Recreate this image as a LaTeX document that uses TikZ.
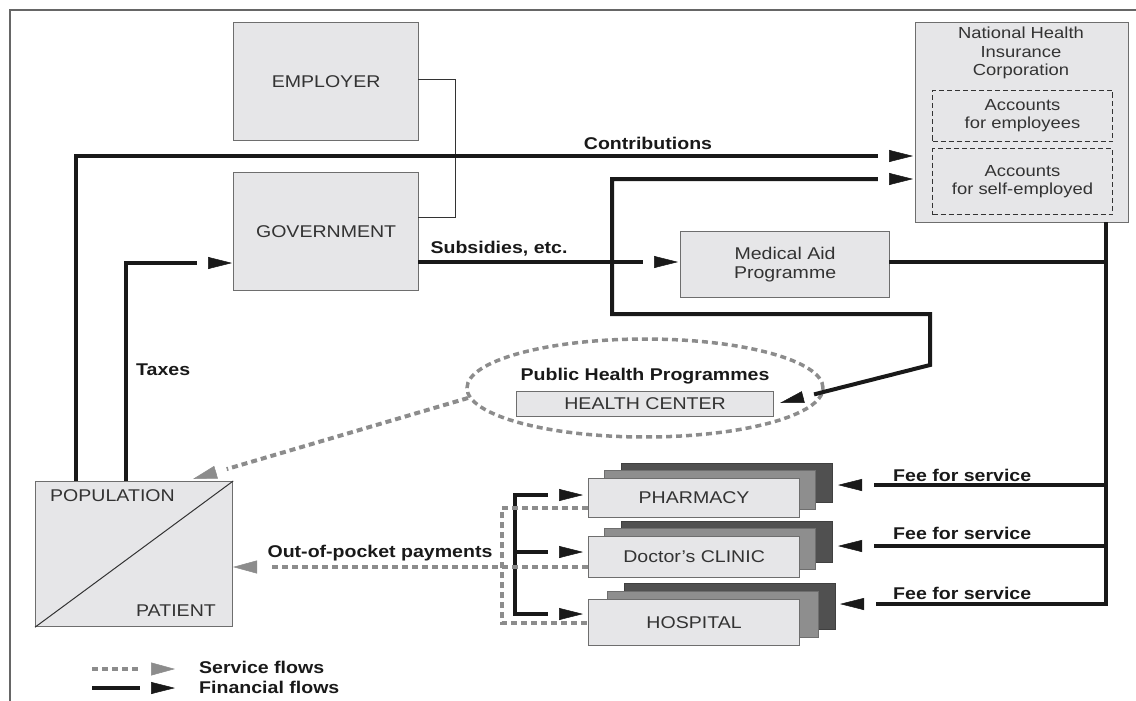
\documentclass[tikz,border=0pt]{standalone}
\usepackage{fontspec}
\setmainfont{Liberation Sans}[FakeStretch=1.15]
\usetikzlibrary{arrows.meta,shapes.geometric}
\definecolor{boxfill}{HTML}{E6E6E8}
\definecolor{boxline}{HTML}{6E6E6E}
\definecolor{svc}{HTML}{8C8C8C}
\definecolor{txt}{HTML}{333333}
\definecolor{midgray}{HTML}{8E8E8E}
\definecolor{backgray}{HTML}{505050}
\definecolor{framecol}{HTML}{666666}
\begin{document}
\begin{tikzpicture}[x=1pt,y=-1pt,line join=miter,
  every node/.style={font=\fontsize{17}{19}\selectfont, inner sep=0pt},
  box/.style={draw=boxline, fill=boxfill, line width=1.2pt, text=txt, align=center, anchor=north west, inner sep=0pt},
  accbox/.style={draw=txt, line width=1pt, dash pattern=on 5pt off 3pt, text=txt, align=center, anchor=north west, inner sep=0pt},
  midbox/.style={draw=boxline, fill=midgray, line width=1.2pt, anchor=north west},
  backbox/.style={draw=backgray!80!black, fill=backgray, line width=1.2pt, anchor=north west},
  lbl/.style={font=\fontsize{17}{19}\selectfont\bfseries, text=black!90},
  fin/.style={draw=black!90, line width=4pt},
  fee/.style={draw=black!90, line width=3.6pt},
  svcline/.style={draw=svc, line width=4pt, dash pattern=on 6pt off 4pt},
  gap/.tip={Rectangle[length=11pt,width=8pt,line width=0.5pt,color=white]},
  head/.tip={Triangle[length=24pt,width=12pt,line width=0.5pt]},
  shead/.tip={Triangle[length=24pt,width=13pt,line width=0.5pt]},
  fa/.style={-{gap[]head[]}},
  fab/.style={{head[]gap[]}-{gap[]head[]}},
  sa/.style={-{gap[]shead[]}},
  thinline/.style={draw=txt, line width=1pt}
]
\useasboundingbox (0,0) rectangle (1136,701);
% frame
\draw[framecol, line width=2pt] (10,701) -- (10,10) -- (1136,10);

% top boxes
\node[box, minimum width=185pt, minimum height=118pt] (emp) at (233,22) {EMPLOYER};
\node[box, minimum width=185pt, minimum height=118pt] (gov) at (233,172) {GOVERNMENT};
\coordinate (empR) at (418,80);
\coordinate (govR) at (418,217);
\coordinate (linkA) at (455,80);
\coordinate (linkB) at (455,217);
\draw[thinline] (empR) -- (linkA) -- (linkB) -- (govR);

% NHIC
\node[box, minimum width=213pt, minimum height=200pt] (nhic) at (915,22) {};
\node[text=txt, align=center, font=\fontsize{16}{18.5}\selectfont] (nhict) at (1021,53) {National Health\\Insurance\\Corporation};
\node[accbox, minimum width=180pt, minimum height=51pt, font=\fontsize{16}{18}\selectfont] (acc1) at (932,90) {Accounts\\for employees};
\node[accbox, minimum width=180pt, minimum height=66pt, font=\fontsize{16}{18}\selectfont] (acc2) at (932,148) {Accounts\\for self-employed};

% Medical aid
\node[box, minimum width=209pt, minimum height=66pt] (ma) at (680,231) {Medical Aid\\Programme};

% Public health
\node[draw=svc, line width=3.5pt, dash pattern=on 6pt off 4pt, ellipse, minimum width=356pt, minimum height=98pt] (php) at (645,388) {};
\node[lbl] (phpt) at (645,376) {Public Health Programmes};
\node[box, minimum width=257pt, minimum height=25pt] (hc) at (516,391) {HEALTH CENTER};

% Population
\node[box, minimum width=197pt, minimum height=145pt] (pop) at (35,481) {};
\draw[thinline] (pop.south west) -- (pop.north east);
\node[text=txt, anchor=west] (popt) at (50,496) {POPULATION};
\node[text=txt, anchor=east] (patt) at (216,611) {PATIENT};

% Provider stacks
\node[backbox, minimum width=211pt, minimum height=39pt] (ph3) at (621,463) {};
\node[midbox, minimum width=211pt, minimum height=39pt] (ph2) at (604,470) {};
\node[box, minimum width=211pt, minimum height=39pt] (ph) at (588,478) {PHARMACY};
\node[backbox, minimum width=211pt, minimum height=41pt] (dc3) at (621,521) {};
\node[midbox, minimum width=211pt, minimum height=41pt] (dc2) at (604,528) {};
\node[box, minimum width=211pt, minimum height=41pt] (dc) at (588,536) {Doctor’s CLINIC};
\node[backbox, minimum width=211pt, minimum height=46pt] (ho3) at (624,583) {};
\node[midbox, minimum width=211pt, minimum height=46pt] (ho2) at (607,591) {};
\node[box, minimum width=211pt, minimum height=46pt] (ho) at (588,599) {HOSPITAL};

% ---- financial flows ----
\coordinate (popC) at (76,481);
\coordinate (popT) at (126,481);
\coordinate (contTip) at (913,156);
\coordinate (taxTip) at (232,263);
\draw[fin,fa] (popC) |- (contTip);
\draw[fin,fa] (popT) |- (taxTip);
\node[lbl] (contl) at (648,143) {Contributions};
\node[lbl, anchor=west] (taxl) at (136,370) {Taxes};

\coordinate (subS) at (418,262);
\coordinate (subTip) at (678,262);
\draw[fin,fa] (subS) -- (subTip);
\node[lbl] (subl) at (499,249) {Subsidies, etc.};

% loop from NHIC (self-employed) to health center
\coordinate (seTip) at (913,179);
\coordinate (lpA) at (612,179);
\coordinate (lpB) at (612,314);
\coordinate (lpC) at (930,314);
\coordinate (lpD) at (930,365);
\coordinate (hcTip) at (780,403);
\draw[fin,fab] (seTip) -- (lpA) -- (lpB) -- (lpC) -- (lpD) -- (hcTip);

% right vertical & fee for service
\coordinate (rvTop) at (1106,222);
\coordinate (rvMA) at (1106,262);
\coordinate (maR) at (889,262);
\coordinate (rv1) at (1106,485);
\coordinate (rv2) at (1106,546);
\coordinate (rvBot) at (1106,604);
\coordinate (f1) at (838,485);
\coordinate (f2) at (838,546);
\coordinate (f3) at (840,604);
\draw[fin] (maR) -- (rvMA);
\draw[fin,fa] (rvTop) -- (rvBot) -- (f3);
\draw[fee,fa] (rv1) -- (f1);
\draw[fee,fa] (rv2) -- (f2);
\node[lbl, anchor=west] (fee1) at (893,475) {Fee for service};
\node[lbl, anchor=west] (fee2) at (893,533) {Fee for service};
\node[lbl, anchor=west] (fee3) at (893,593) {Fee for service};

% bracket to providers
\coordinate (brTop) at (515,495);
\coordinate (brMid) at (515,552);
\coordinate (brBot) at (515,614);
\coordinate (phTip) at (583,495);
\coordinate (dcTip) at (583,552);
\coordinate (hoTip) at (583,614);
\draw[fin,fab] (phTip) -- (brTop) -- (brBot) -- (hoTip);
\draw[fin,fa] (brMid) -- (dcTip);

% ---- service flows ----
\coordinate (sv1) at (588,508);
\coordinate (sv1b) at (502,508);
\coordinate (sv3b) at (502,623);
\coordinate (sv3) at (588,623);
\draw[svcline] (sv1) -- (sv1b) -- (sv3b) -- (sv3);
\coordinate (oopS) at (588,567);
\coordinate (oopTip) at (233,567);
\draw[svcline,sa] (oopS) -- (oopTip);
\node[lbl] (oopl) at (380,553) {Out-of-pocket payments};
\coordinate (phpL) at (468,398);
\coordinate (popTip) at (193,479);
\draw[svcline,sa] (phpL) -- (popTip);

% legend
\coordinate (lg1a) at (92,669);
\coordinate (lg1b) at (175,669);
\coordinate (lg2a) at (92,688);
\coordinate (lg2b) at (175,688);
\draw[svcline,sa] (lg1a) -- (lg1b);
\draw[fin,fa] (lg2a) -- (lg2b);
\node[lbl, anchor=west] (lgt1) at (199,667) {Service flows};
\node[lbl, anchor=west] (lgt2) at (199,687) {Financial flows};
\end{tikzpicture}
\end{document}
